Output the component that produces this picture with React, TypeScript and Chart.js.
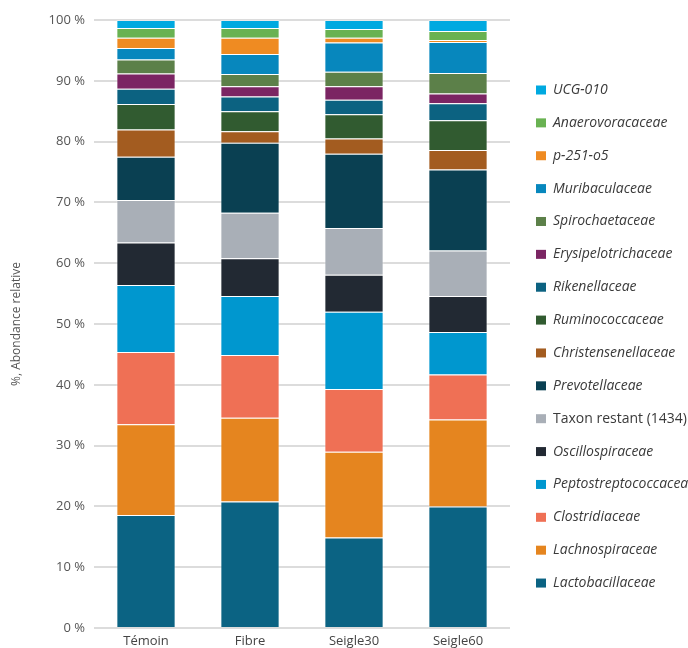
import React, { useEffect, useRef } from "react";
import { Chart, registerables } from "chart.js";

Chart.register(...registerables);

const categories = ["Témoin", "Fibre", "Seigle30", "Seigle60"];

// Series from bottom of stack to top
const seriesNames = [
  "Lactobacillaceae",
  "Lachnospiraceae",
  "Clostridiaceae",
  "Peptostreptococcaceae",
  "Oscillospiraceae",
  "Taxon restant (1434)",
  "Prevotellaceae",
  "Christensenellaceae",
  "Ruminococcaceae",
  "Rikenellaceae",
  "Erysipelotrichaceae",
  "Spirochaetaceae",
  "Muribaculaceae",
  "p-251-o5",
  "Anaerovoracaceae",
  "UCG-010",
];

const lactobacillaceae = [18.6, 20.8, 14.9, 20.0];
const lachnospiraceae = [14.9, 13.8, 14.1, 14.3];
const clostridiaceae = [11.9, 10.3, 10.3, 7.4];
const peptostreptococcaceae = [11.0, 9.7, 12.7, 7.0];
const oscillospiraceae = [7.0, 6.2, 6.1, 5.9];
const taxonRestant = [7.0, 7.5, 7.7, 7.5];
const prevotellaceae = [7.1, 11.5, 12.2, 13.3];
const christensenellaceae = [4.5, 1.9, 2.5, 3.2];
const ruminococcaceae = [4.2, 3.3, 4.0, 4.9];
const rikenellaceae = [2.5, 2.4, 2.4, 2.8];
const erysipelotrichaceae = [2.5, 1.7, 2.2, 1.6];
const spirochaetaceae = [2.3, 2.0, 2.4, 3.4];
const muribaculaceae = [1.9, 3.3, 4.8, 5.1];
const p251o5 = [1.7, 2.7, 0.8, 0.3];
const anaerovoracaceae = [1.6, 1.6, 1.4, 1.5];
const ucg010 = [1.3, 1.3, 1.5, 1.8];

const seriesValues = [
  lactobacillaceae,
  lachnospiraceae,
  clostridiaceae,
  peptostreptococcaceae,
  oscillospiraceae,
  taxonRestant,
  prevotellaceae,
  christensenellaceae,
  ruminococcaceae,
  rikenellaceae,
  erysipelotrichaceae,
  spirochaetaceae,
  muribaculaceae,
  p251o5,
  anaerovoracaceae,
  ucg010,
];

const seriesColors = [
  "#0b6383",
  "#e5851f",
  "#ef7055",
  "#0097cf",
  "#222933",
  "#a9afb7",
  "#0a4052",
  "#a35c20",
  "#315b30",
  "#0c6281",
  "#7b2563",
  "#5c8049",
  "#0787bd",
  "#ef8b22",
  "#69b252",
  "#00a9e0",
];

const italicSeries = seriesNames.map((n) => !n.startsWith("Taxon restant"));

const yTicks = [0, 10, 20, 30, 40, 50, 60, 70, 80, 90, 100];

const FONT = "'Open Sans', Lato, sans-serif";

const legendPlugin = {
  id: "customLegend",
  afterDraw(chart: any) {
    const ctx = chart.ctx;
    const area = chart.chartArea;
    const ds = chart.data.datasets;
    const n = ds.length;
    const x0 = area.right + 26;
    const yStart = area.top + 70;
    const step = 32.87;
    ctx.save();
    ctx.textBaseline = "middle";
    for (let i = 0; i < n; i++) {
      const d = ds[n - 1 - i];
      const y = yStart + i * step;
      ctx.fillStyle = d.backgroundColor;
      ctx.fillRect(x0, y - 4.5, 10, 9);
      ctx.fillStyle = "#3a3a3a";
      ctx.font = (d.italic ? "italic " : "") + "14px " + FONT;
      ctx.fillText(d.label, x0 + 17, y);
    }
    ctx.restore();
  },
};

export default function App() {
  const ref = useRef<HTMLCanvasElement>(null);

  useEffect(() => {
    if (!ref.current) return;
    const chart = new Chart(ref.current, {
      type: "bar",
      data: {
        labels: categories,
        datasets: seriesNames.map((name, i) => ({
          label: name,
          data: seriesValues[i],
          backgroundColor: seriesColors[i],
          borderColor: "rgba(255,255,255,0.35)",
          borderWidth: 1,
          barPercentage: 0.57,
          categoryPercentage: 1,
          italic: italicSeries[i],
        })) as any,
      },
      options: {
        animation: false,
        responsive: false,
        maintainAspectRatio: false,
        layout: { padding: { top: 20, right: 178, left: 0, bottom: 0 } },
        plugins: {
          legend: { display: false },
          tooltip: { enabled: false },
        },
        scales: {
          x: {
            stacked: true,
            grid: { display: false, drawTicks: false },
            border: { display: false },
            ticks: {
              color: "#444",
              font: { family: FONT, size: 13 },
              padding: 5,
            },
            afterFit: (s: any) => {
              s.height = 20;
            },
          },
          y: {
            stacked: true,
            min: 0,
            max: 100,
            afterBuildTicks: (s: any) => {
              s.ticks = yTicks.map((v) => ({ value: v }));
            },
            grid: { color: "#dcdcdc", lineWidth: 2, drawTicks: false },
            border: { display: false },
            ticks: {
              color: "#555",
              font: { family: FONT, size: 13 },
              padding: 9,
              callback: (v: any) => v + " %",
            },
            title: {
              display: true,
              text: "%, Abondance relative",
              color: "#555",
              font: { family: FONT, size: 12 },
              padding: { top: 9, bottom: 0 },
            },
            afterFit: (s: any) => {
              s.width = 94;
            },
          },
        },
      },
      plugins: [legendPlugin],
    });
    return () => chart.destroy();
  }, []);

  return (
    <div style={{ position: "absolute", left: 0, top: 0, width: 688, height: 648, background: "#fff" }}>
      <canvas ref={ref} width={688} height={648} style={{ display: "block" }} />
    </div>
  );
}
